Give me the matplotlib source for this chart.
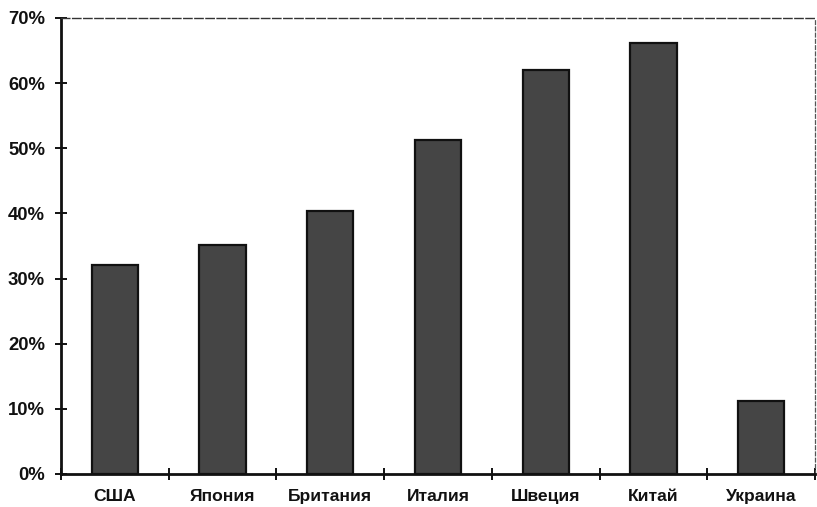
import matplotlib.pyplot as plt
import numpy as np
from matplotlib.ticker import PercentFormatter

# Доли по странам (в процентах)
countries = ["США", "Япония", "Британия", "Италия", "Швеция", "Китай", "Украина"]
shares = [32.1, 35.2, 40.3, 51.3, 62.0, 66.1, 11.2]
y_ticks = [0, 10, 20, 30, 40, 50, 60, 70]

plt.rcParams['font.family'] = ['Liberation Sans', 'DejaVu Sans']

fig = plt.figure(figsize=(8.17, 5.07), dpi=100)
ax = fig.add_axes([0.0747, 0.0651, 0.9229, 0.8994])

x = np.arange(len(countries))
ax.bar(x, shares, width=0.43, color='#454545', edgecolor='#111111', linewidth=1.6)

ax.set_xlim(-0.5, len(countries) - 0.5)
ax.set_ylim(0, 70)
ax.set_yticks(y_ticks)
ax.yaxis.set_major_formatter(PercentFormatter(decimals=0))

# Деления оси X между категориями, подписи по центрам
ax.set_xticks(np.arange(len(countries) + 1) - 0.5)
ax.set_xticklabels([])
ax.set_xticks(x, minor=True)
ax.set_xticklabels(countries, minor=True, fontsize=12.6, fontweight='bold', color='#111111')
ax.tick_params(axis='x', which='minor', length=0, pad=11)
ax.tick_params(axis='x', which='major', direction='inout', length=9, width=1.4, color='#111111')
ax.tick_params(axis='y', direction='inout', length=9, width=1.4, color='#111111',
               labelsize=13.3, pad=7)
for lbl in ax.get_yticklabels():
    lbl.set_fontweight('bold')
    lbl.set_color('#111111')

# Рамка: слева и снизу сплошная, сверху и справа пунктир
ax.spines['left'].set_linewidth(2.0)
ax.spines['bottom'].set_linewidth(2.0)
ax.spines['left'].set_color('#111111')
ax.spines['bottom'].set_color('#111111')
ax.spines['top'].set_linestyle((0, (6, 2)))
ax.spines['top'].set_linewidth(1.0)
ax.spines['top'].set_color('#333333')
ax.spines['right'].set_linestyle((0, (3, 2)))
ax.spines['right'].set_linewidth(0.9)
ax.spines['right'].set_color('#555555')

fig.savefig('out.png', dpi=100)
